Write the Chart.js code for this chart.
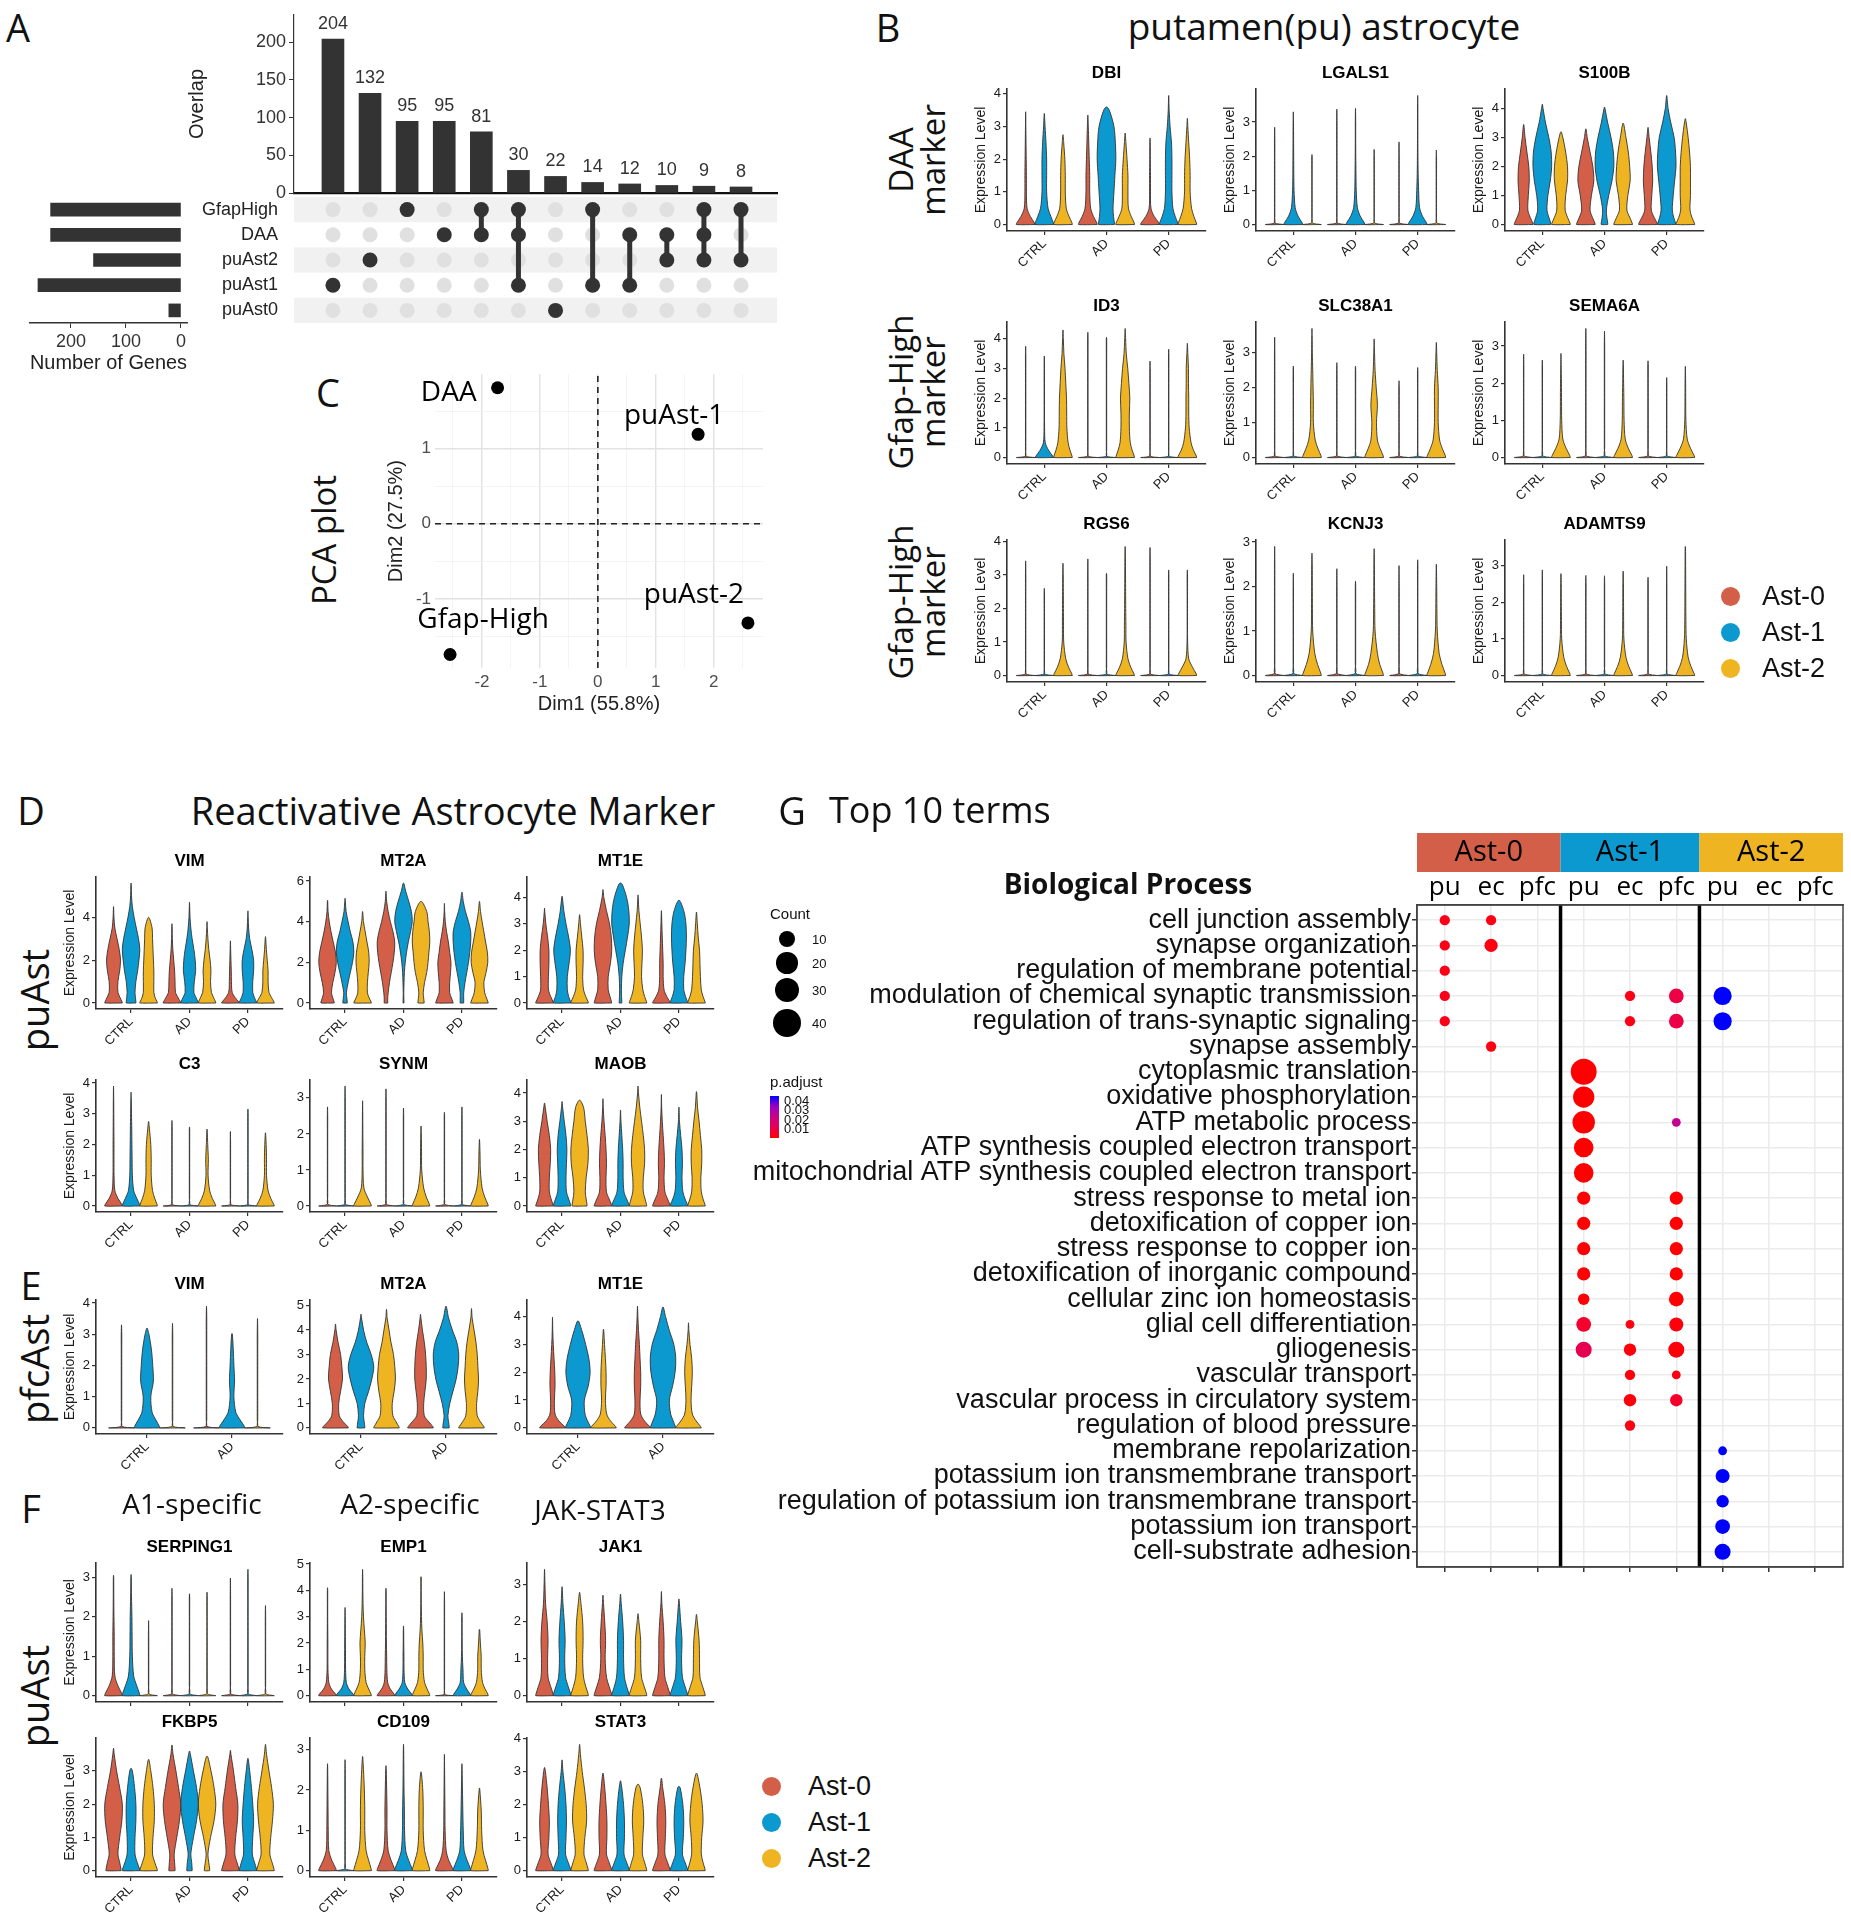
<!DOCTYPE html>
<html>
<head>
<meta charset="utf-8">
<title>Astrocyte subtypes</title>
<script src="https://cdn.jsdelivr.net/npm/chart.js@4.4.1/dist/chart.umd.min.js"></script>
<style>
  body { margin: 0; background: #fff; }
  #page { position: relative; width: 1851px; height: 1920px; overflow: hidden; font-family: 'Liberation Sans', Arial, sans-serif; color: #111; }
  #page canvas { position: absolute; }
  .lbl { position: absolute; white-space: nowrap; line-height: 1; text-align: center; }
</style>
</head>
<body>
<div id="page"></div>
<script>
// ---------- A: upset ----------
const upsetSets = ['GfapHigh', 'DAA', 'puAst2', 'puAst1', 'puAst0'];
const setSizes = [237, 237, 159, 260, 22];
const interCounts = [204, 132, 95, 95, 81, 30, 22, 14, 12, 10, 9, 8];
const interSets = [[3], [2], [0], [1], [0, 1], [0, 1, 3], [4], [0, 3], [1, 3], [1, 2], [0, 1, 2], [0, 2]];

// ---------- C: PCA ----------
const pcaNames = ['DAA', 'puAst-1', 'puAst-2', 'Gfap-High'];
const pcaDim1 = [-1.73, 1.73, 2.59, -2.55];
const pcaDim2 = [1.81, 1.19, -1.32, -1.74];

// ---------- violins ----------
const clusterNames = ['Ast-0', 'Ast-1', 'Ast-2'];
const conds3 = ['CTRL', 'AD', 'PD'];
const conds2 = ['CTRL', 'AD'];
// expression levels at which the half widths are read
const vlnLevels = [0, 0.05, 0.25, 0.5, 1, 1.5, 2, 2.5, 3, 3.5, 4, 4.5, 5, 5.5, 6];
// each violin: [max, half width at each level (1 = widest)], order CTRL(Ast-0,1,2) AD(...) PD(...)
const b_DBI = [[3.45,1,.95,.5,.15,.08,.08,.06,.04,.02],[3.4,1,.97,.7,.4,.25,.25,.25,.18,.08,.02],[2.75,1,.97,.65,.35,.25,.25,.2,.08],
  [3.35,1,.97,.6,.3,.2,.2,.15,.1,.05],[3.6,.85,.85,.75,.7,.8,.9,1,.95,.8,.3],[2.8,1,.97,.65,.35,.3,.3,.2,.08],
  [2.65,1,.95,.45,.1,.05,.05,.03],[3.95,1,.97,.7,.45,.35,.35,.35,.3,.15,.05],[3.25,1,.97,.7,.45,.3,.3,.25,.15,.05]];
const b_LGALS1 = [[2.85,1],[3.3,1,.95,.5,.2,.08,.05,.04,.03],[2.05,1],[3.38,1],[3.4,1,.95,.5,.2,.08,.05,.03],[2.2,1],
  [2.42,1],[3.78,1,.95,.5,.2,.1,.05,.03],[2.18,1]];
const b_S100B = [[3.45,1,.97,.7,.45,.5,.6,.55,.35,.15],[4.15,.9,.9,.7,.5,.6,.85,1,.95,.7,.35,.08],[3.2,1,.97,.7,.45,.5,.7,.7,.5,.2],
  [3.3,1,.97,.7,.45,.6,.85,.75,.45,.15],[4.05,.35,.35,.25,.2,.45,.8,1,.95,.7,.35,.05],[3.5,1,.97,.7,.4,.5,.75,.7,.55,.3],
  [3.35,1,.97,.65,.35,.4,.5,.45,.3,.12],[4.45,.95,.95,.75,.6,.7,.85,1,.95,.8,.45,.15],[3.65,1,.97,.7,.5,.55,.55,.55,.45,.3,.1]];
const b_ID3 = [[3.75,1],[3.42,1,.9,.45,.1,.03],[4.3,1,.97,.75,.55,.42,.4,.38,.3,.22,.1,.04],
  [4.22,1],[4.05,1],[4.35,1,.97,.75,.55,.45,.45,.5,.4,.28,.12,.05],
  [3.25,1],[3.65,1],[3.85,1,.97,.65,.4,.2,.15,.15,.12,.12,.05]];
const b_SLC38A1 = [[3.45,1],[2.62,1],[3.7,1,.97,.65,.35,.15,.15,.12,.08,.04,.02],
  [2.72,1],[2.62,1],[3.4,1,.97,.65,.35,.25,.35,.22,.1,.04],
  [2.2,1],[2.58,1],[3.3,1,.97,.65,.35,.2,.2,.2,.1,.04]];
const b_SEMA6A = [[2.78,1],[2.62,1],[2.8,1,.95,.55,.2,.08,.06,.05,.02],[3.47,1],[3.4,1],[2.62,1,.95,.55,.22,.1,.08,.05,.02],
  [2.6,1],[2.15,1],[2.45,1,.95,.55,.2,.06,.04,.03]];
const b_RGS6 = [[3.42,1],[2.6,1],[3.35,1,.95,.6,.3,.08,.06,.05,.04,.03],[3.48,1],[3.05,1],[3.85,1,.95,.6,.3,.1,.08,.06,.05,.04,.03],
  [3.82,1],[3.15,1],[3.15,1,.95,.55,.15,.03,.02]];
const b_KCNJ3 = [[2.9,1],[2.3,1],[2.75,1,.95,.6,.3,.08,.05,.04,.03],[2.4,1],[2.12,1],[2.85,1,.95,.6,.35,.1,.06,.04,.03],
  [2.47,1],[2.6,1],[2.5,1,.95,.6,.3,.1,.06,.04]];
const b_ADAMTS9 = [[2.75,1],[2.88,1],[2.78,1,.95,.6,.3,.08,.05,.04,.03],[2.73,1],[2.72,1],[2.85,1,.95,.6,.3,.08,.05,.04,.03],
  [2.68,1],[2.98,1],[3.52,1,.95,.6,.3,.1,.06,.05,.04,.03]];

const d_VIM = [[4.5,1,.97,.75,.5,.5,.7,.8,.65,.4,.15,.05],[5.6,.55,.55,.5,.45,.55,.75,.9,1,.85,.6,.35,.15,.05,.02],[4.0,1,.97,.75,.6,.6,.6,.55,.5,.45,.4],
  [3.7,1,.97,.7,.4,.35,.3,.2,.1,.04],[4.7,1,.97,.75,.5,.55,.7,.65,.5,.3,.15,.06,.02],[3.8,1,.97,.75,.5,.4,.45,.35,.2,.1,.03],
  [2.9,1,.95,.55,.2,.12,.1,.06,.03],[4.3,1,.97,.75,.55,.55,.65,.65,.45,.2,.08,.03],[3.1,1,.97,.7,.4,.3,.3,.2,.1,.03]];
const d_MT2A = [[5.05,.75,.75,.6,.45,.6,.85,1,.9,.65,.4,.2,.06,.02],[5.15,.25,.25,.2,.15,.35,.6,.85,1,.9,.6,.35,.12,.03],[4.5,1,.97,.75,.55,.55,.65,.75,.7,.5,.3,.1],
  [5.5,.2,.2,.2,.25,.4,.6,.8,.95,1,.8,.5,.25,.08],[5.9,.05,.05,.04,.03,.06,.1,.2,.35,.55,.8,1,.9,.6,.25],[5.0,.35,.35,.3,.25,.4,.65,.8,.9,1,.95,.8,.65],
  [4.9,1,.97,.8,.6,.6,.7,.75,.6,.45,.25,.1,.03],[5.45,.2,.2,.2,.2,.35,.55,.75,.9,1,1,.75,.4,.15],[5.0,1,.97,.8,.6,.5,.75,.95,.9,.7,.5,.3,.12]];
const d_MT1E = [[3.6,1,.97,.7,.45,.45,.5,.5,.35,.15],[4.05,1,.97,.75,.6,.6,.8,.95,.75,.45,.2,.04],[3.35,1,.97,.7,.45,.35,.4,.4,.25,.1],
  [4.3,1,.97,.8,.6,.6,.85,1,.95,.75,.4,.1],[4.55,.15,.15,.12,.1,.15,.3,.55,.8,1,.95,.7,.2],[4.1,1,.97,.75,.55,.4,.45,.5,.4,.25,.1,.02],
  [3.5,1,.95,.6,.3,.2,.2,.15,.1,.05],[3.9,1,.97,.75,.55,.55,.7,.8,.85,.8,.55],[3.45,1,.97,.75,.55,.45,.4,.35,.2,.1]];
const d_C3 = [[3.9,1,.95,.5,.15,.06,.05,.05,.04,.03,.02],[3.7,1,.97,.65,.3,.15,.12,.1,.08,.05,.02],[2.75,1,.97,.7,.45,.3,.3,.25,.1],
  [2.78,1],[2.57,1],[2.5,1,.95,.6,.3,.12,.15,.08],
  [2.42,1],[3.15,1],[2.38,1,.95,.6,.3,.12,.12,.08]];
const d_SYNM = [[2.75,1],[3.33,1],[2.92,1,.95,.55,.15,.05,.05,.03,.02],[3.25,1],[2.72,1],[2.22,1,.95,.6,.3,.08,.06,.03],
  [2.6,1],[2.75,1],[1.85,1,.95,.6,.3,.1,.06]];
const d_MAOB = [[3.65,1,.97,.75,.55,.55,.65,.7,.55,.3,.08],[3.7,1,.97,.75,.5,.45,.5,.55,.45,.25,.06],[3.75,.85,.85,.75,.65,.75,.95,1,.85,.65,.45],
  [3.8,1,.97,.7,.4,.35,.4,.35,.25,.12,.03],[3.4,1,.97,.7,.4,.3,.3,.25,.15,.05],[4.25,1,.97,.8,.6,.6,.75,.75,.6,.4,.2,.05],
  [3.95,1,.97,.7,.4,.3,.35,.3,.2,.1,.03],[3.5,1,.97,.7,.45,.35,.4,.35,.2,.06],[4.05,1,.97,.75,.55,.5,.6,.6,.45,.3,.12,.03]];

const e_VIM = [[3.3,1],[3.2,1,.97,.7,.4,.3,.5,.45,.35,.15],[3.35,1],[3.9,1],[3.02,1,.97,.65,.3,.15,.2,.15,.1,.03],[3.5,1]];
const e_MT2A = [[4.25,1,.97,.6,.3,.25,.4,.55,.5,.4,.2,.05],[4.65,.3,.3,.25,.2,.3,.6,.85,1,.8,.45,.2,.04],[4.85,1,.97,.75,.5,.45,.6,.7,.65,.55,.35,.2,.05],
  [4.65,1,.97,.65,.3,.25,.35,.45,.45,.4,.3,.15,.03],[4.98,.25,.25,.2,.15,.3,.55,.8,.95,1,.85,.5,.2],[4.88,1,.97,.7,.45,.4,.5,.55,.5,.45,.35,.2,.05]];
const e_MT1E = [[3.98,1,.95,.5,.2,.15,.2,.18,.12,.06,.02],[3.85,1,.97,.75,.55,.5,.8,.95,.85,.6,.3],[3.55,1,.95,.55,.25,.15,.2,.2,.15,.08,.02],
  [4.38,1,.95,.55,.25,.2,.25,.25,.2,.15,.08,.03],[4.35,1,.97,.8,.6,.5,.75,.95,1,.85,.5,.2],[3.78,1,.95,.6,.3,.2,.25,.3,.25,.12,.03]];

const f_SERPING1 = [[3.05,1,.95,.5,.15,.08,.08,.05,.03,.02],[3.07,1,.97,.65,.3,.15,.12,.1,.05,.02],[1.9,1],
  [2.72,1],[2.58,1],[2.62,1],[2.98,1],[3.2,1],[2.28,1]];
const f_EMP1 = [[4.1,1,.95,.45,.15,.05,.04,.04,.03,.02],[3.35,1,.95,.45,.15,.06,.05,.04,.03],[4.8,1,.97,.7,.4,.25,.25,.3,.2,.1,.05,.03,.02],
  [4.08,1,.95,.5,.2,.1,.08,.05,.04,.03],[2.65,1,.95,.5,.15,.06,.05,.03],[4.52,1,.97,.7,.4,.25,.25,.2,.1,.05,.03,.02],
  [3.95,1],[3.15,1,.95,.55,.2,.12,.05,.03,.02],[2.52,1,.97,.65,.35,.2,.2,.1,.03]];
const f_JAK1 = [[3.42,1,.97,.7,.4,.35,.4,.3,.12,.05],[2.95,1,.97,.7,.4,.3,.35,.25,.1],[2.8,1,.97,.7,.45,.35,.4,.35,.15],
  [2.72,1,.97,.7,.4,.25,.3,.2,.06],[2.75,1,.97,.7,.45,.35,.35,.25,.08],[2.22,1,.97,.7,.4,.3,.3,.1],
  [2.82,1,.97,.7,.4,.3,.3,.2,.05],[2.62,1,.97,.7,.4,.3,.35,.2,.05],[2.2,1,.97,.7,.4,.35,.3,.1]];
const f_FKBP5 = [[3.68,.85,.85,.7,.5,.7,.95,1,.7,.35,.08],[3.08,1,.97,.7,.45,.45,.55,.55,.4,.15],[3.35,1,.97,.7,.45,.5,.65,.65,.5,.25],
  [3.78,.35,.35,.3,.25,.55,.85,1,.75,.45,.12],[3.6,.3,.3,.25,.15,.45,.8,1,.8,.45,.1],[3.45,.3,.3,.2,.1,.4,.8,1,.8,.45],
  [3.62,1,.97,.75,.5,.6,.8,.85,.6,.35,.06],[3.38,1,.97,.75,.5,.55,.65,.55,.4,.2],[3.8,1,.97,.75,.5,.6,.8,.9,.7,.4,.12]];
const f_CD109 = [[2.65,1,.95,.5,.15,.08,.06,.04,.02],[2.75,1],[2.83,1,.97,.7,.4,.25,.25,.2,.1],
  [2.6,1,.97,.6,.25,.12,.12,.08,.03],[3.13,1,.97,.6,.25,.12,.1,.06,.04,.02],[2.45,1,.97,.7,.4,.25,.25,.2,.05],
  [2.88,1,.95,.5,.2,.08,.06,.04,.02],[2.65,1,.97,.6,.25,.15,.1,.06,.02],[2.05,1,.97,.7,.4,.25,.2,.04]];
const f_STAT3 = [[3.12,1,.97,.7,.4,.5,.55,.45,.3,.1],[3.35,1,.97,.7,.4,.45,.5,.45,.3,.1],[3.82,1,.97,.75,.5,.6,.8,.75,.55,.3,.1],
  [2.95,1,.97,.7,.4,.45,.45,.35,.2,.04],[2.72,1,.97,.7,.4,.45,.45,.35,.15],[2.62,1,.97,.75,.5,.55,.65,.55,.25],
  [2.8,1,.97,.7,.4,.45,.5,.4,.15],[2.55,1,.97,.7,.4,.5,.55,.45,.15],[2.95,1,.97,.75,.55,.6,.75,.65,.4,.05]];

// ---------- G: GO terms ----------
const goTerms = ['cell junction assembly', 'synapse organization', 'regulation of membrane potential',
  'modulation of chemical synaptic transmission', 'regulation of trans-synaptic signaling', 'synapse assembly',
  'cytoplasmic translation', 'oxidative phosphorylation', 'ATP metabolic process',
  'ATP synthesis coupled electron transport', 'mitochondrial ATP synthesis coupled electron transport',
  'stress response to metal ion', 'detoxification of copper ion', 'stress response to copper ion',
  'detoxification of inorganic compound', 'cellular zinc ion homeostasis', 'glial cell differentiation', 'gliogenesis',
  'vascular transport', 'vascular process in circulatory system', 'regulation of blood pressure',
  'membrane repolarization', 'potassium ion transmembrane transport',
  'regulation of potassium ion transmembrane transport', 'potassium ion transport', 'cell-substrate adhesion'];
const goCols = ['pu', 'ec', 'pfc', 'pu', 'ec', 'pfc', 'pu', 'ec', 'pfc'];
// [term row, column, Count, p.adjust]
const goDots = [
  [1,1,2,0.0018],[1,2,2,0.0018],[2,1,2,0.0018],[2,2,5,0.0012],[3,1,2,0.0018],
  [4,1,2,0.0018],[4,5,2,0.0018],[4,6,7,0.009],[4,7,13,0.044],
  [5,1,2,0.0018],[5,5,2,0.0018],[5,6,7,0.009],[5,7,13,0.044],
  [6,2,2,0.0012],[7,4,33,0.00001],[8,4,20,0.00001],[9,4,23,0.00001],[9,6,1,0.024],
  [10,4,16,0.00001],[11,4,16,0.00001],
  [12,4,5,0.0002],[12,6,5,0.0002],[13,4,5,0.0002],[13,6,5,0.0002],[14,4,5,0.0002],[14,6,5,0.0002],
  [15,4,5,0.0002],[15,6,5,0.0002],[16,4,3,0.0005],[16,6,7,0.0002],
  [17,4,7,0.005],[17,5,1,0.0012],[17,6,6,0.0008],[18,4,9,0.011],[18,5,4,0.0008],[18,6,9,0.0005],
  [19,5,2,0.0008],[19,6,1,0.0015],[20,5,4,0.0008],[20,6,4,0.0045],[21,5,2,0.0015],
  [22,7,1,0.044],[23,7,6,0.044],[24,7,4,0.044],[25,7,7,0.044],[26,7,9,0.044]];
const countBreaks = [10, 20, 30, 40];
const padjBreaks = [0.01, 0.02, 0.03, 0.04];
const padjMax = 0.044;

// ---------- helpers ----------
const clusterColors = ['#D35F48', '#0B99CF', '#EEB422'];
const HEAD = "'Open Sans', 'Liberation Sans', sans-serif";
const BODY = "'Liberation Sans', Arial, sans-serif";
Chart.defaults.font.family = BODY;
Chart.defaults.color = '#1a1a1a';
Chart.defaults.animation = false;
Chart.defaults.events = [];
Chart.defaults.plugins.legend.display = false;
Chart.defaults.plugins.tooltip.enabled = false;

const page = document.getElementById('page');

function makeCanvas(left, top, w, h) {
  const c = document.createElement('canvas');
  c.width = w; c.height = h;
  c.style.left = left + 'px'; c.style.top = top + 'px';
  c.style.width = w + 'px'; c.style.height = h + 'px';
  page.appendChild(c);
  return c.getContext('2d');
}

function text(str, x, y, size, o = {}) {
  const d = document.createElement('div');
  d.className = 'lbl';
  d.innerHTML = str;
  d.style.left = x + 'px';
  d.style.top = y + 'px';
  d.style.fontSize = size + 'px';
  d.style.fontFamily = o.font || HEAD;
  if (o.bold) d.style.fontWeight = 'bold';
  if (o.lh) d.style.lineHeight = o.lh;
  const ax = o.anchor === 'left' ? '0' : '-50%';
  d.style.transform = `translate(${ax}, -50%)` + (o.rot ? ' rotate(-90deg)' : '');
  page.appendChild(d);
}

function dot(x, y, r, color) {
  const d = document.createElement('div');
  Object.assign(d.style, { position: 'absolute', left: (x - r) + 'px', top: (y - r) + 'px', width: 2 * r + 'px', height: 2 * r + 'px', borderRadius: '50%', background: color });
  page.appendChild(d);
}

const dotRadius = c => 2.6 + 1.8 * Math.sqrt(c);

// red -> blue gradient interpolated in CIELAB (like ggplot's gradient)
const toLin = c => { c /= 255; return c <= 0.04045 ? c / 12.92 : Math.pow((c + 0.055) / 1.055, 2.4); };
const fromLin = c => Math.round(255 * Math.min(1, Math.max(0, c <= 0.0031308 ? 12.92 * c : 1.055 * Math.pow(c, 1 / 2.4) - 0.055)));
function rgbToLab([r, g, b]) {
  r = toLin(r); g = toLin(g); b = toLin(b);
  const X = (0.4124 * r + 0.3576 * g + 0.1805 * b) / 0.95047, Y = 0.2126 * r + 0.7152 * g + 0.0722 * b, Z = (0.0193 * r + 0.1192 * g + 0.9505 * b) / 1.08883;
  const f = t => t > 0.008856 ? Math.cbrt(t) : 7.787 * t + 16 / 116;
  return [116 * f(Y) - 16, 500 * (f(X) - f(Y)), 200 * (f(Y) - f(Z))];
}
function labToRgb([L, a, b]) {
  const fy = (L + 16) / 116, fx = fy + a / 500, fz = fy - b / 200;
  const fi = t => t * t * t > 0.008856 ? t * t * t : (t - 16 / 116) / 7.787;
  const X = fi(fx) * 0.95047, Y = fi(fy), Z = fi(fz) * 1.08883;
  return [fromLin(3.2406 * X - 1.5372 * Y - 0.4986 * Z), fromLin(-0.9689 * X + 1.8758 * Y + 0.0415 * Z), fromLin(0.0557 * X - 0.2040 * Y + 1.0570 * Z)];
}
const labLow = rgbToLab([255, 0, 0]), labHigh = rgbToLab([0, 0, 255]);
function padjColor(p) {
  const t = Math.min(Math.max(p / padjMax, 0), 1);
  const c = labToRgb(labLow.map((v, i) => v + (labHigh[i] - v) * t));
  return `rgb(${c[0]},${c[1]},${c[2]})`;
}

// closed outline of one violin, in data units
function violinOutline(v, center, halfW) {
  const top = v[0];
  const side = [];
  vlnLevels.forEach((lv, i) => {
    if (lv < top) side.push([lv, v[i + 1] !== undefined ? v[i + 1] : 0.02]);
  });
  const pts = side.map(([y, w]) => ({ x: center + w * halfW, y }));
  pts.push({ x: center, y: top });
  for (let i = side.length - 1; i >= 0; i--) pts.push({ x: center - side[i][1] * halfW, y: side[i][0] });
  pts.push(pts[0]);
  return pts;
}

// invisible axis that only reserves room
function spacerAxis(position, size) {
  const horizontal = position === 'top' || position === 'bottom';
  return {
    type: 'linear', axis: horizontal ? 'x' : 'y', position,
    ticks: { display: false }, grid: { display: false }, border: { display: false },
    afterFit: s => { if (horizontal) s.height = size; else s.width = size; }
  };
}

function violinPlot(gene, data, conds, left, top, plotW, plotH, showY, showX) {
  const yw = 36, titleH = 26, xh = showX ? 46 : 12;
  const yMax = Math.max(...data.map(v => v[0]));
  const step = yMax > 5.2 ? 2 : 1;
  const ctx = makeCanvas(left - yw, top - titleH, plotW + 2 * yw, titleH + plotH + xh);
  const axisGrid = { drawOnChartArea: false, drawTicks: true, tickLength: 4, color: '#333', lineWidth: 1.2 };
  new Chart(ctx, {
    type: 'scatter',
    data: {
      datasets: data.map((v, i) => {
        const k = i % 3, g = Math.floor(i / 3);
        return {
          data: violinOutline(v, g + 1 + (k - 1) * 0.3, 0.15), xAxisID: 'x', yAxisID: 'y',
          showLine: true, fill: 'shape', tension: 0.3,
          backgroundColor: clusterColors[k], borderColor: '#333', borderWidth: 0.9, pointRadius: 0
        };
      })
    },
    options: {
      responsive: false,
      layout: { autoPadding: false },
      plugins: { title: { display: true, text: gene, font: { size: 17, weight: 'bold' }, color: '#000', padding: { top: 0, bottom: 5.6 } } },
      scales: {
        x: {
          type: 'linear', min: 0.4, max: conds.length + 0.6,
          afterBuildTicks: s => { s.ticks = conds.map((c, j) => ({ value: j + 1 })); },
          afterFit: s => { s.height = xh; },
          ticks: { display: showX, callback: v => conds[Math.round(v) - 1], minRotation: 45, maxRotation: 45, autoSkip: false, font: { size: 13 }, padding: 1 },
          grid: axisGrid, border: { color: '#333', width: 1.6 }
        },
        y: {
          min: -0.05 * yMax, max: 1.05 * yMax,
          afterBuildTicks: s => { const t = []; for (let v = 0; v <= 1.05 * yMax; v += step) t.push({ value: v }); s.ticks = t; },
          afterFit: s => { s.width = yw; },
          ticks: { font: { size: 13 }, padding: 2 },
          title: { display: showY, text: 'Expression Level', font: { size: 14 }, padding: { top: 2, bottom: 0 } },
          grid: axisGrid, border: { color: '#333', width: 1.6 }
        },
        yr: spacerAxis('right', yw)
      }
    }
  });
}

// ---------- panel A ----------
const barValueLabels = {
  id: 'barValueLabels',
  afterDatasetsDraw(chart) {
    const { ctx } = chart;
    const meta = chart.getDatasetMeta(0);
    ctx.save();
    ctx.font = `18px ${BODY}`; ctx.fillStyle = '#333'; ctx.textAlign = 'center'; ctx.textBaseline = 'bottom';
    meta.data.forEach((bar, i) => ctx.fillText(interCounts[i], bar.x, bar.y - 6));
    ctx.restore();
  }
};

new Chart(makeCanvas(181, 0, 604, 207), {
  type: 'bar',
  data: { datasets: [{ data: interCounts.map((v, i) => ({ x: i, y: v })), backgroundColor: '#333', barThickness: 22 }] },
  options: {
    responsive: false,
    layout: { padding: { top: 15, right: 8 }, autoPadding: false },
    scales: {
      x: { type: 'linear', offset: false, min: -1.05, max: 11.97, afterFit: s => { s.height = 14; }, ticks: { display: false }, grid: { display: false }, border: { color: '#111', width: 2.2 } },
      y: {
        min: 0, max: 236,
        afterBuildTicks: s => { s.ticks = [0, 50, 100, 150, 200].map(v => ({ value: v })); },
        afterFit: s => { s.width = 113; },
        ticks: { font: { size: 18 }, color: '#333', padding: 3 },
        title: { display: true, text: 'Overlap', font: { size: 20 }, color: '#222', padding: { top: 4, bottom: 0 } },
        grid: { drawOnChartArea: false, tickLength: 5, color: '#333' }, border: { color: '#333', width: 1.2 }
      }
    }
  },
  plugins: [barValueLabels]
});

const rowStripes = {
  id: 'rowStripes',
  beforeDatasetsDraw(chart) {
    const { ctx, chartArea: a, scales: { y } } = chart;
    ctx.save(); ctx.fillStyle = '#f1f1f1';
    upsetSets.forEach((s, i) => {
      if (i % 2) return;
      const y0 = y.getPixelForValue(i - 0.5), y1 = y.getPixelForValue(i + 0.5);
      ctx.fillRect(a.left, y0, a.right - a.left, y1 - y0);
    });
    ctx.restore();
  }
};

const member = [], nonMember = [];
interSets.forEach((sets, i) => upsetSets.forEach((s, r) => (sets.includes(r) ? member : nonMember).push({ x: i, y: r })));
new Chart(makeCanvas(180, 173, 605, 174), {
  type: 'scatter',
  data: {
    datasets: [
      { data: member, pointRadius: 7.5, backgroundColor: '#333', borderWidth: 0, xAxisID: 'x', yAxisID: 'y' },
      ...interSets.filter(s => s.length > 1).map(s => ({
        type: 'line', data: [{ x: interSets.indexOf(s), y: Math.min(...s) }, { x: interSets.indexOf(s), y: Math.max(...s) }],
        borderColor: '#333', borderWidth: 5, pointRadius: 0, xAxisID: 'x', yAxisID: 'y'
      })),
      { data: nonMember, pointRadius: 7.5, backgroundColor: '#e0e0e0', borderWidth: 0, xAxisID: 'x', yAxisID: 'y' }
    ]
  },
  options: {
    responsive: false,
    layout: { padding: { right: 8 }, autoPadding: false },
    scales: {
      x: { type: 'linear', min: -1.05, max: 11.97, ticks: { display: false }, grid: { display: false }, border: { display: false }, afterFit: s => { s.height = 24; } },
      xt: spacerAxis('top', 24),
      y: {
        reverse: true, min: -0.5, max: 4.5,
        afterBuildTicks: s => { s.ticks = upsetSets.map((n, i) => ({ value: i })); },
        afterFit: s => { s.width = 114; },
        ticks: { callback: v => upsetSets[v], font: { size: 18 }, color: '#222', padding: 8, autoSkip: false },
        grid: { display: false }, border: { display: false }
      }
    }
  },
  plugins: [rowStripes]
});

new Chart(makeCanvas(20, 173, 175, 207), {
  type: 'bar',
  data: { labels: upsetSets, datasets: [{ data: setSizes, backgroundColor: '#333', barThickness: 13, xAxisID: 'x', yAxisID: 'y' }] },
  options: {
    indexAxis: 'y', responsive: false,
    layout: { padding: { left: 10, right: 8 }, autoPadding: false },
    scales: {
      x: {
        reverse: true, min: -11, max: 274.5,
        afterBuildTicks: s => { s.ticks = [0, 100, 200].map(v => ({ value: v })); },
        afterFit: s => { s.height = 57; },
        ticks: { font: { size: 18 }, color: '#333', padding: 3, maxRotation: 0 },
        title: { display: true, text: 'Number of Genes', font: { size: 21 }, color: '#222', padding: { top: 0, bottom: 4 } },
        grid: { drawOnChartArea: false, tickLength: 5, color: '#333' }, border: { color: '#333', width: 1.5 }
      },
      y: { display: false },
      xt: spacerAxis('top', 24)
    }
  }
});

// ---------- panel B ----------
const bGenes = [['DBI', b_DBI], ['LGALS1', b_LGALS1], ['S100B', b_S100B], ['ID3', b_ID3], ['SLC38A1', b_SLC38A1],
  ['SEMA6A', b_SEMA6A], ['RGS6', b_RGS6], ['KCNJ3', b_KCNJ3], ['ADAMTS9', b_ADAMTS9]];
const bCols = [1007, 1256, 1505], bRows = [89, 322, 540];
bGenes.forEach(([g, d], i) => violinPlot(g, d, conds3, bCols[i % 3], bRows[Math.floor(i / 3)], 199, 142, true, true));

// ---------- panel C ----------
const pcaX = [-2.81, 2.85], pcaY = [-1.92, 1.99];
const pcaLabelStyle = [{ dx: -21, dy: 5, align: 'right' }, { dx: -24, dy: -18, align: 'center' }, { dx: -54, dy: -28, align: 'center' }, { dx: 33, dy: -34, align: 'center' }];
const pcaLabels = {
  id: 'pcaLabels',
  afterDatasetsDraw(chart) {
    const { ctx } = chart;
    ctx.save(); ctx.font = `28px ${HEAD}`; ctx.fillStyle = '#000'; ctx.textBaseline = 'middle';
    chart.getDatasetMeta(0).data.forEach((p, i) => {
      const s = pcaLabelStyle[i];
      ctx.textAlign = s.align;
      ctx.fillText(pcaNames[i], p.x + s.dx, p.y + s.dy);
    });
    ctx.restore();
  }
};
const halfTicks = s => { const t = []; for (let v = Math.ceil(s.min * 2) / 2; v <= s.max; v += 0.5) t.push({ value: v }); s.ticks = t; };
const pcaGrid = {
  drawTicks: false,
  color: c => Number.isInteger(c.tick.value) ? '#e2e2e2' : '#f1f1f1',
  lineWidth: c => Number.isInteger(c.tick.value) ? 1.4 : 0.8
};
new Chart(makeCanvas(380, 360, 393, 360), {
  type: 'scatter',
  data: {
    datasets: [
      { data: pcaDim1.map((x, i) => ({ x, y: pcaDim2[i] })), pointRadius: 6.5, backgroundColor: '#000', borderWidth: 0 },
      { type: 'line', data: [{ x: 0, y: pcaY[0] }, { x: 0, y: pcaY[1] }], borderColor: '#222', borderWidth: 1.6, borderDash: [6, 5], pointRadius: 0 },
      { type: 'line', data: [{ x: pcaX[0], y: 0 }, { x: pcaX[1], y: 0 }], borderColor: '#222', borderWidth: 1.6, borderDash: [6, 5], pointRadius: 0 }
    ]
  },
  options: {
    responsive: false,
    layout: { padding: { top: 13, right: 10 }, autoPadding: false },
    scales: {
      x: {
        min: pcaX[0], max: pcaX[1], afterBuildTicks: halfTicks, afterFit: s => { s.height = 52; },
        ticks: { callback: v => Number.isInteger(v) ? v : '', font: { size: 17 }, color: '#4d4d4d', padding: 4, maxRotation: 0, autoSkip: false },
        title: { display: true, text: 'Dim1 (55.8%)', font: { size: 20 }, color: '#222', padding: { top: 0, bottom: 4 } },
        grid: pcaGrid, border: { display: false }
      },
      y: {
        min: pcaY[0], max: pcaY[1], afterBuildTicks: halfTicks, afterFit: s => { s.width = 55; },
        ticks: { callback: v => Number.isInteger(v) ? v : '', font: { size: 17 }, color: '#4d4d4d', padding: 4, autoSkip: false },
        title: { display: true, text: 'Dim2 (27.5%)', font: { size: 20 }, color: '#222', padding: { top: 4, bottom: 0 } },
        grid: pcaGrid, border: { display: false }
      }
    }
  },
  plugins: [pcaLabels]
});

// ---------- panels D, E, F ----------
const dCols = [96, 310, 527];
[['VIM', d_VIM], ['MT2A', d_MT2A], ['MT1E', d_MT1E], ['C3', d_C3], ['SYNM', d_SYNM], ['MAOB', d_MAOB]]
  .forEach(([g, d], i) => violinPlot(g, d, conds3, dCols[i % 3], [877, 1080][Math.floor(i / 3)], 187, 132, i % 3 === 0, true));
[['VIM', e_VIM], ['MT2A', e_MT2A], ['MT1E', e_MT1E]]
  .forEach(([g, d], i) => violinPlot(g, d, conds2, dCols[i], 1300, 187, 134, i === 0, true));
[['SERPING1', f_SERPING1], ['EMP1', f_EMP1], ['JAK1', f_JAK1], ['FKBP5', f_FKBP5], ['CD109', f_CD109], ['STAT3', f_STAT3]]
  .forEach(([g, d], i) => violinPlot(g, d, conds3, dCols[i % 3], [1563, 1738][Math.floor(i / 3)], 187, 139, i % 3 === 0, i >= 3));

// ---------- panel G ----------
const goStrips = {
  id: 'goStrips',
  afterDraw(chart) {
    const { ctx, chartArea: a, scales: { x } } = chart;
    const edges = [x.min, 3.5, 6.5, x.max];
    ctx.save();
    clusterNames.forEach((name, k) => {
      const x0 = x.getPixelForValue(edges[k]), x1 = x.getPixelForValue(edges[k + 1]);
      ctx.fillStyle = clusterColors[k];
      ctx.fillRect(x0, a.top - 72, x1 - x0, 39);
      ctx.fillStyle = '#000'; ctx.font = `29px ${HEAD}`; ctx.textAlign = 'center'; ctx.textBaseline = 'middle';
      ctx.fillText(name, (x0 + x1) / 2, a.top - 52);
    });
    ctx.strokeStyle = '#444'; ctx.lineWidth = 1.5;
    ctx.strokeRect(a.left, a.top, a.right - a.left, a.bottom - a.top);
    ctx.restore();
  }
};
const colTicks = s => { s.ticks = goCols.map((c, i) => ({ value: i + 1 })); };
new Chart(makeCanvas(740, 828, 1111, 762), {
  type: 'bubble',
  data: {
    datasets: [
      { data: goDots.map(d => ({ x: d[1], y: d[0], r: dotRadius(d[2]) })), backgroundColor: goDots.map(d => padjColor(d[3])), borderWidth: 0, xAxisID: 'x', yAxisID: 'y' },
      ...[1, 2].map(k => ({ type: 'line', data: [{ x: k * 3 + 0.5, y: 0.4 }, { x: k * 3 + 0.5, y: goTerms.length + 0.6 }], borderColor: '#000', borderWidth: 3.5, pointRadius: 0, xAxisID: 'x', yAxisID: 'y' }))
    ]
  },
  options: {
    responsive: false,
    layout: { padding: { right: 8 }, autoPadding: false },
    scales: {
      x: {
        type: 'linear', min: 0.4, max: 9.6, afterBuildTicks: colTicks, afterFit: s => { s.height = 23; },
        ticks: { display: false },
        grid: { color: '#ebebeb', lineWidth: 1.5, tickColor: '#333', tickLength: 5 }, border: { color: '#444', width: 1.5 }
      },
      x2: {
        type: 'linear', position: 'top', min: 0.4, max: 9.6, afterBuildTicks: colTicks, afterFit: s => { s.height = 77; },
        ticks: { callback: v => goCols[Math.round(v) - 1], font: { size: 26, family: HEAD }, color: '#000', padding: 2, autoSkip: false, maxRotation: 0 },
        grid: { drawOnChartArea: false, drawTicks: false }, border: { color: '#444', width: 1.5 }
      },
      y: {
        type: 'linear', reverse: true, min: 0.4, max: goTerms.length + 0.6,
        afterBuildTicks: s => { s.ticks = goTerms.map((t, i) => ({ value: i + 1 })); },
        afterFit: s => { s.width = 677; },
        ticks: { callback: v => goTerms[Math.round(v) - 1], font: { size: 27, lineHeight: 1 }, color: '#111', padding: 1, autoSkip: false },
        grid: { color: '#ebebeb', lineWidth: 1.5, tickColor: '#333', tickLength: 5 }, border: { color: '#444', width: 1.5 }
      }
    }
  },
  plugins: [goStrips]
});

// G legends
text('Count', 770, 913, 15, { anchor: 'left', font: BODY });
[939, 963, 990, 1023].forEach((y, i) => {
  dot(787, y, dotRadius(countBreaks[i]), '#000');
  text(String(countBreaks[i]), 812, y, 13, { anchor: 'left', font: BODY });
});
text('p.adjust', 770, 1081, 15, { anchor: 'left', font: BODY });
{
  const bar = document.createElement('div');
  const stops = [0, 0.25, 0.5, 0.75, 1].map(f => padjColor(f * padjMax)).join(',');
  Object.assign(bar.style, { position: 'absolute', left: '770px', top: '1096px', width: '9px', height: '42px', background: `linear-gradient(to top, ${stops})` });
  page.appendChild(bar);
  padjBreaks.forEach(p => text(String(p), 784, 1138 - p / padjMax * 42, 13, { anchor: 'left', font: BODY }));
}

// cluster legends (B and F)
function clusterLegend(x, y0, gap) {
  clusterNames.forEach((n, i) => {
    dot(x, y0 + i * 36, 9.5, clusterColors[i]);
    text(n, x + gap, y0 + i * 36, 27, { anchor: 'left', font: BODY });
  });
}
clusterLegend(1730, 596, 32);
clusterLegend(771, 1786, 37);

// ---------- headings ----------
[['A', 18, 27], ['B', 888, 27], ['C', 328, 392], ['D', 31, 810], ['E', 31, 1285], ['F', 31, 1508], ['G', 792, 810]]
  .forEach(([l, x, y]) => text(l, x, y, 38));
text('putamen(pu) astrocyte', 1324, 25, 37);
text('DAA<br>marker', 917, 160, 33, { rot: true, lh: 0.98 });
text('Gfap-High<br>marker', 917, 392, 33, { rot: true, lh: 0.98 });
text('Gfap-High<br>marker', 917, 602, 33, { rot: true, lh: 0.98 });
text('PCA plot', 323, 540, 33, { rot: true });
text('Reactivative Astrocyte Marker', 453, 810, 38);
text('puAst', 34, 1000, 38, { rot: true });
text('pfcAst', 34, 1369, 38, { rot: true });
text('puAst', 34, 1696, 38, { rot: true });
text('A1-specific', 192, 1503, 28);
text('A2-specific', 410, 1503, 28);
text('JAK-STAT3', 600, 1509, 28);
text('Top 10 terms', 829, 810, 36, { anchor: 'left' });
text('Biological Process', 1128, 883, 28, { bold: true });
</script>
</body>
</html>
